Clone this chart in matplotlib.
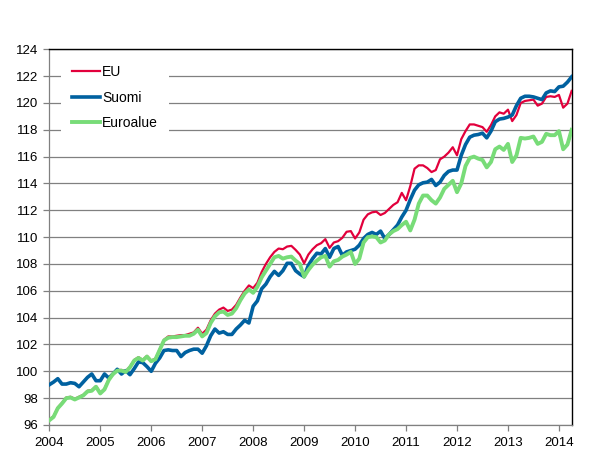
import matplotlib
matplotlib.use("Agg")
import matplotlib.pyplot as plt

plt.rcParams['font.family'] = ['Liberation Sans', 'DejaVu Sans']

# monthly index values, Jan 2004 ->
eu = [96.4, 96.65, 97.3, 97.65, 98.05, 98.1, 97.95, 98.1, 98.25, 98.55,
      98.6, 98.9, 98.4, 98.7, 99.4, 99.85, 100.1, 100.1, 100.0, 100.35,
      100.85, 101.05, 100.85, 101.15, 100.8, 100.95, 101.65, 102.35, 102.6, 102.6,
      102.65, 102.7, 102.7, 102.8, 102.9, 103.25, 102.8, 103.1, 103.8, 104.3,
      104.6, 104.75, 104.5, 104.6, 104.95, 105.5, 106.0, 106.4, 106.2, 106.6,
      107.4, 108.0, 108.5, 108.9, 109.15, 109.1, 109.3, 109.35, 109.05, 108.7,
      108.05, 108.7, 109.1, 109.4, 109.55, 109.85, 109.2, 109.6, 109.7, 109.95,
      110.4, 110.45, 109.9, 110.35, 111.3, 111.7, 111.85, 111.9, 111.65, 111.8,
      112.1, 112.4, 112.6, 113.3, 112.75, 113.8, 115.1, 115.35, 115.35, 115.15,
      114.85, 115.0, 115.8, 116.0, 116.3, 116.7, 116.1, 117.3, 117.9, 118.4,
      118.4, 118.3, 118.2, 117.85, 118.35, 119.0, 119.3, 119.2, 119.5, 118.65,
      119.1, 120.0, 120.15, 120.2, 120.25, 119.8, 119.95, 120.45, 120.5, 120.45,
      120.6, 119.65, 119.95, 120.9]

suomi = [99.0, 99.2, 99.45, 99.05, 99.05, 99.15, 99.1, 98.85, 99.2, 99.55,
         99.8, 99.3, 99.3, 99.8, 99.5, 99.8, 100.15, 99.8, 100.05, 99.75,
         100.2, 100.7, 100.65, 100.35, 100.0, 100.6, 101.0, 101.55, 101.6, 101.55,
         101.55, 101.1, 101.4, 101.55, 101.65, 101.65, 101.35, 101.9, 102.65, 103.15,
         102.85, 102.95, 102.75, 102.75, 103.15, 103.45, 103.8, 103.6, 104.85, 105.25,
         106.15, 106.5, 107.05, 107.45, 107.15, 107.5, 108.05, 108.05, 107.5, 107.25,
         107.05, 107.9, 108.4, 108.8, 108.75, 109.15, 108.5, 109.15, 109.3, 108.65,
         108.9, 109.0, 109.1, 109.4, 109.9, 110.2, 110.35, 110.2, 110.45, 109.9,
         110.2, 110.55, 110.9, 111.5, 112.0, 112.8, 113.5, 113.9, 114.05, 114.1,
         114.3, 113.85, 114.1, 114.6, 114.9, 115.0, 115.0, 116.1, 116.9, 117.45,
         117.6, 117.65, 117.75, 117.4, 117.9, 118.6, 118.8, 118.85, 118.95, 119.1,
         119.8, 120.35, 120.5, 120.5, 120.45, 120.35, 120.25, 120.75, 120.9, 120.85,
         121.2, 121.25, 121.55, 121.95]

euroalue = [96.35, 96.6, 97.25, 97.6, 98.0, 98.05, 97.9, 98.05, 98.2, 98.5,
            98.55, 98.85, 98.35, 98.65, 99.35, 99.8, 100.05, 100.05, 99.95, 100.3,
            100.8, 101.0, 100.8, 101.1, 100.75, 100.9, 101.6, 102.3, 102.5, 102.55,
            102.55, 102.6, 102.65, 102.65, 102.8, 103.1, 102.6, 102.85, 103.6, 104.1,
            104.4, 104.45, 104.2, 104.3, 104.7, 105.3, 105.8, 106.1, 105.85, 106.3,
            107.0, 107.5, 108.0, 108.5, 108.6, 108.4, 108.5, 108.55, 108.25, 108.0,
            107.05, 107.55, 107.95, 108.25, 108.5, 108.6, 107.8, 108.2, 108.3, 108.55,
            108.7, 108.9, 108.0, 108.4, 109.6, 110.0, 110.05, 110.0, 109.6, 109.75,
            110.2, 110.45, 110.6, 110.9, 111.15, 110.5, 111.3, 112.5, 113.1, 113.1,
            112.75, 112.5, 112.95, 113.6, 113.9, 114.2, 113.35, 114.0, 115.3, 115.9,
            116.0, 115.85, 115.75, 115.2, 115.6, 116.55, 116.75, 116.5, 116.95, 115.6,
            116.1, 117.4, 117.35, 117.4, 117.5, 116.95, 117.1, 117.7, 117.6, 117.6,
            117.9, 116.55, 116.9, 118.0]

years = ['2004', '2005', '2006', '2007', '2008', '2009', '2010', '2011', '2012', '2013', '2014']
months = list(range(len(eu)))

fig = plt.figure(figsize=(6.07, 4.74), dpi=100)
ax = fig.add_axes([0.0812, 0.1034, 0.8606, 0.7926])

ax.plot(months, eu, color='#E2003C', lw=1.6, label='EU', zorder=3)
ax.plot(months, suomi, color='#0061A0', lw=2.6, label='Suomi', zorder=4)
ax.plot(months, euroalue, color='#78DC78', lw=2.8, label='Euroalue', zorder=5)

ax.set_xlim(0, len(eu) - 1)
ax.set_ylim(96, 124)
ax.set_yticks(range(96, 125, 2))
ax.set_xticks([12 * i for i in range(len(years))])
ax.set_xticklabels(years)

ax.yaxis.grid(True, color='#808080', lw=0.9)
ax.set_axisbelow(True)
ax.tick_params(axis='both', labelsize=9.5, color='#808080', length=4, width=0.9)
ax.tick_params(axis='y', pad=4)
ax.tick_params(axis='x', pad=5)

for s in ['left', 'bottom']:
    ax.spines[s].set_color('#808080')
    ax.spines[s].set_linewidth(0.9)
for s in ['top', 'right']:
    ax.spines[s].set_color('black')
    ax.spines[s].set_linewidth(1.0)

leg = ax.legend(loc='upper left', bbox_to_anchor=(0.023, 0.987), fontsize=10,
                frameon=True, facecolor='white', edgecolor='none', framealpha=1,
                fancybox=False, handlelength=2.0, handletextpad=0.15,
                labelspacing=0.83, borderpad=0.8, borderaxespad=0.0)
leg.set_zorder(10)

fig.savefig('out.png', dpi=100)
